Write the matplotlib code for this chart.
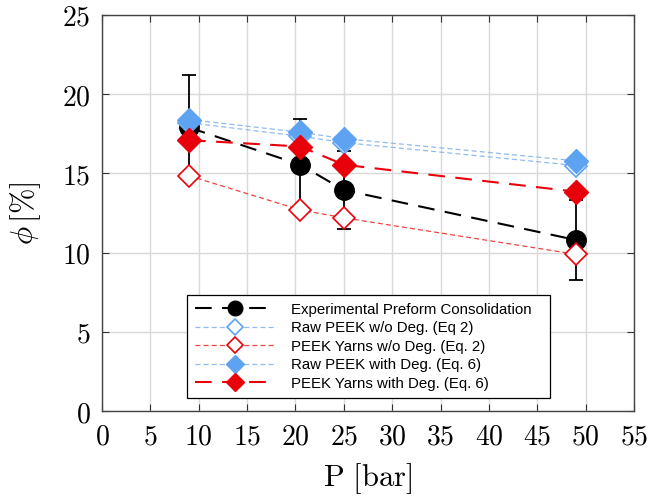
import numpy as np
import matplotlib
matplotlib.use("Agg")
import matplotlib.pyplot as plt
from matplotlib.ticker import FuncFormatter

plt.rcParams["mathtext.fontset"] = "cm"

# Pressure levels [bar]
pressure = [9, 20.5, 25, 49]

# Porosity phi [%]
exp_phi = [17.9, 15.55, 13.95, 10.8]
exp_err = [3.3, 2.9, 2.45, 2.5]
raw_nodeg = [18.2, 17.35, 16.95, 15.5]
yarn_nodeg = [14.85, 12.7, 12.2, 9.9]
raw_deg = [18.4, 17.6, 17.2, 15.8]
yarn_deg = [17.1, 16.7, 15.55, 13.85]

labels = [
    "Experimental Preform Consolidation",
    "Raw PEEK w/o Deg. (Eq 2)",
    "PEEK Yarns w/o Deg. (Eq. 2)",
    "Raw PEEK with Deg. (Eq. 6)",
    "PEEK Yarns with Deg. (Eq. 6)",
]

BLUE = "#5ea2f2"
BLUE_LINE = "#8fbbee"
RED = "#e8000b"
RED_LIGHT = "#ee4444"

fig = plt.figure(figsize=(6.71, 4.99), dpi=100)
ax = fig.add_axes([0.152, 0.176, 0.793, 0.794])

ax.errorbar(pressure, exp_phi, yerr=exp_err, fmt="none", ecolor="black",
            elinewidth=1.3, capsize=5, capthick=1.3, zorder=2)
ax.plot(pressure, exp_phi, color="black", linestyle=(0, (8, 5)), linewidth=1.5,
        marker="o", markersize=14, markerfacecolor="black",
        markeredgecolor="black", label=labels[0], zorder=3)
ax.plot(pressure, raw_nodeg, color=BLUE_LINE, linestyle=(0, (4, 2.5)), linewidth=0.9,
        marker="D", markersize=11.5, markerfacecolor="white",
        markeredgecolor=BLUE, markeredgewidth=1.2, label=labels[1], zorder=3)
ax.plot(pressure, yarn_nodeg, color=RED_LIGHT, linestyle=(0, (4, 2.5)), linewidth=0.9,
        marker="D", markersize=11.5, markerfacecolor="white",
        markeredgecolor=RED, markeredgewidth=1.2, label=labels[2], zorder=3)
ax.plot(pressure, raw_deg, color=BLUE_LINE, linestyle=(0, (4, 2.5)), linewidth=0.9,
        marker="D", markersize=12, markerfacecolor=BLUE,
        markeredgecolor=BLUE, label=labels[3], zorder=4)
ax.plot(pressure, yarn_deg, color=RED, linestyle=(0, (8, 5)), linewidth=1.5,
        marker="D", markersize=12, markerfacecolor=RED,
        markeredgecolor=RED, label=labels[4], zorder=4)

ax.set_xlim(0, 55)
ax.set_ylim(0, 25)
ax.set_xticks(np.arange(0, 56, 5))
ax.set_yticks(np.arange(0, 26, 5))
fmt = FuncFormatter(lambda v, pos: f"${v:g}$")
ax.xaxis.set_major_formatter(fmt)
ax.yaxis.set_major_formatter(fmt)
ax.tick_params(direction="in", top=True, right=True, labelsize=20,
               length=5, width=0.8, color="#333333", pad=8)
ax.grid(True, color="#d9d9d9", linewidth=1.0)
ax.set_axisbelow(True)
for sp in ax.spines.values():
    sp.set_color("#444444")
    sp.set_linewidth(1.0)

ax.set_xlabel(r"$\mathrm{P\ [bar]}$", fontsize=22, labelpad=8)
ax.set_ylabel(r"$\phi\,[\%]$", fontsize=22, labelpad=14)

leg = ax.legend(loc="lower left", bbox_to_anchor=(0.16, 0.033, 0.682, 0.273),
                mode="expand", prop={"family": "Liberation Sans", "size": 10.8},
                fancybox=False, framealpha=1, edgecolor="black", handlelength=5.4,
                markerscale=0.75, borderpad=0.5, labelspacing=0.3,
                handletextpad=1.0, borderaxespad=0)
leg.get_frame().set_linewidth(0.9)

fig.savefig("out.png", dpi=100)
